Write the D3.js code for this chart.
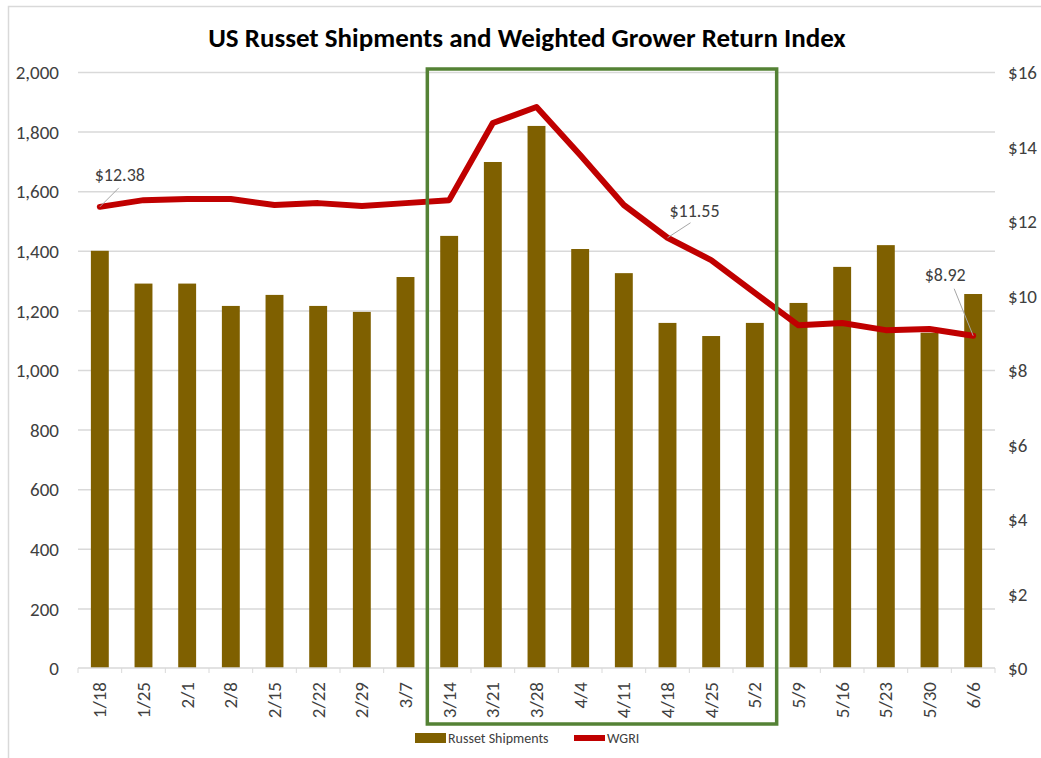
<!DOCTYPE html>
<html>
<head>
<meta charset="utf-8">
<script src="https://cdn.jsdelivr.net/npm/d3@7"></script>
<style>
	body { margin: 0; background: #fff; }
	svg text { font-family: Carlito, Calibri, 'Open Sans', sans-serif; }
</style>
</head>
<body>
<svg id="chart"></svg>
<script>
const weeks = ['1/18', '1/25', '2/1', '2/8', '2/15', '2/22', '2/29', '3/7', '3/14', '3/21', '3/28',
	'4/4', '4/11', '4/18', '4/25', '5/2', '5/9', '5/16', '5/23', '5/30', '6/6'];
const shipments = [1400, 1290, 1290, 1215, 1252, 1215, 1195, 1312, 1450, 1698, 1819,
	1406, 1325, 1158, 1114, 1158, 1225, 1346, 1419, 1125, 1255];
const wgri = [12.38, 12.56, 12.59, 12.59, 12.43, 12.48, 12.40, 12.48, 12.56, 14.63, 15.06,
	13.77, 12.43, 11.55, 10.95, 10.07, 9.20, 9.26, 9.07, 9.10, 8.92];
const leftTicks = [0, 200, 400, 600, 800, 1000, 1200, 1400, 1600, 1800, 2000];
const rightTicks = [0, 2, 4, 6, 8, 10, 12, 14, 16];
const callouts = [['1/18', '$12.38'], ['4/18', '$11.55'], ['6/6', '$8.92']];
const boxWeeks = ['3/14', '5/2'];

const W = 1041, H = 758;
const margin = {top: 72, right: 46, bottom: 90, left: 78};

const svg = d3.select('#chart').attr('width', W).attr('height', H);

// light frame round the chart
svg.append('rect')
	.attr('x', 8.5).attr('y', 6.5)
	.attr('width', W).attr('height', H)
	.attr('fill', 'none').attr('stroke', '#d9d9d9').attr('stroke-width', 1.5);

const x = d3.scaleBand()
	.domain(weeks)
	.range([margin.left, W - margin.right])
	.paddingInner(0.59)
	.paddingOuter(0.295);

const y = d3.scaleLinear().domain([0, 2000]).range([H - margin.bottom, margin.top]);
const y2 = d3.scaleLinear().domain([0, 16]).range([H - margin.bottom, margin.top]);

const x0 = margin.left, x1 = W - margin.right;

// gridlines
svg.append('g')
	.selectAll('line')
	.data(leftTicks.slice(1))
	.enter().append('line')
	.attr('x1', x0).attr('x2', x1)
	.attr('y1', d => y(d) + 0.5).attr('y2', d => y(d) + 0.5)
	.attr('stroke', '#d9d9d9').attr('stroke-width', 1.5);

// left axis
const yAxis = svg.append('g')
	.attr('transform', `translate(${x0 - 16},0)`)
	.call(d3.axisLeft(y).tickValues(leftTicks).tickSize(0).tickFormat(d3.format(',')));
yAxis.select('.domain').remove();
yAxis.selectAll('text').attr('font-size', 19).attr('fill', '#404040').attr('dy', '0.35em');

// right axis
const yAxis2 = svg.append('g')
	.attr('transform', `translate(${x1 + 10},0)`)
	.call(d3.axisRight(y2).tickValues(rightTicks).tickSize(0).tickFormat(d => '$' + d));
yAxis2.select('.domain').remove();
yAxis2.selectAll('text').attr('font-size', 19).attr('fill', '#404040').attr('dy', '0.35em');

// bars
svg.append('g')
	.selectAll('rect')
	.data(weeks.map((w, i) => [w, shipments[i]]))
	.enter().append('rect')
	.attr('x', d => x(d[0]))
	.attr('width', x.bandwidth())
	.attr('y', d => y(d[1]))
	.attr('height', d => y(0) - y(d[1]))
	.attr('fill', '#7f6000');

// bottom axis with ticks between categories
const step = x.step();
const xAxis = svg.append('g')
	.attr('transform', `translate(0,${y(0)})`);
xAxis.append('line')
	.attr('x1', x0).attr('x2', x1)
	.attr('stroke', '#d9d9d9').attr('stroke-width', 1.5);
xAxis.selectAll('.tick')
	.data(d3.range(weeks.length + 1))
	.enter().append('line')
	.attr('x1', i => x0 + i * step).attr('x2', i => x0 + i * step)
	.attr('y1', 0).attr('y2', 5)
	.attr('stroke', '#d9d9d9');
xAxis.selectAll('text')
	.data(weeks)
	.enter().append('text')
	.attr('transform', d => `translate(${x(d) + x.bandwidth() / 2},14) rotate(-90)`)
	.attr('text-anchor', 'end')
	.attr('dy', '0.35em')
	.attr('font-size', 19)
	.attr('fill', '#404040')
	.text(d => d);

// WGRI line
const line = d3.line()
	.x(d => x(d[0]) + x.bandwidth() / 2)
	.y(d => y2(d[1]));

svg.append('path')
	.datum(weeks.map((w, i) => [w, wgri[i]]))
	.attr('d', line)
	.attr('fill', 'none')
	.attr('stroke', '#c00000')
	.attr('stroke-width', 6)
	.attr('stroke-linejoin', 'round')
	.attr('stroke-linecap', 'round');

// callouts: label offset and leader end, relative to the point
const calloutPos = {
	'1/18': {label: [20, -26], leader: [19, -19]},
	'4/18': {label: [27, -21], leader: [23, -15]},
	'6/6': {label: [-28, -55], leader: [-19, -47]}
};
callouts.forEach(([w, label]) => {
	const i = weeks.indexOf(w);
	const px = x(w) + x.bandwidth() / 2, py = y2(wgri[i]);
	const pos = calloutPos[w];
	svg.append('line')
		.attr('x1', px).attr('y1', py)
		.attr('x2', px + pos.leader[0]).attr('y2', py + pos.leader[1])
		.attr('stroke', '#a6a6a6').attr('stroke-width', 1);
	svg.append('text')
		.attr('x', px + pos.label[0]).attr('y', py + pos.label[1])
		.attr('text-anchor', 'middle')
		.attr('font-size', 18)
		.attr('fill', '#404040')
		.text(label);
});

// green highlight box round 3/14 .. 5/2
const gap = (step - x.bandwidth()) / 2;
const bx0 = x(boxWeeks[0]) - gap;
const bx1 = x(boxWeeks[1]) + x.bandwidth() + gap;
svg.append('rect')
	.attr('x', bx0)
	.attr('y', y(2000) - 3)
	.attr('width', bx1 - bx0)
	.attr('height', 655)
	.attr('fill', 'none')
	.attr('stroke', '#548235')
	.attr('stroke-width', 3.5);

// title
svg.append('text')
	.attr('x', 527).attr('y', 47)
	.attr('text-anchor', 'middle')
	.attr('font-size', 27)
	.attr('font-weight', 'bold')
	.attr('fill', '#000')
	.text('US Russet Shipments and Weighted Grower Return Index');

// legend
const legend = svg.append('g').attr('transform', 'translate(415,738)');
legend.append('rect')
	.attr('x', 0).attr('y', -5).attr('width', 31).attr('height', 10)
	.attr('fill', '#7f6000');
legend.append('text')
	.attr('x', 33).attr('dy', '0.35em')
	.attr('font-size', 14).attr('fill', '#404040')
	.text('Russet Shipments');
legend.append('line')
	.attr('x1', 159).attr('x2', 190)
	.attr('stroke', '#c00000').attr('stroke-width', 6);
legend.append('text')
	.attr('x', 192).attr('dy', '0.35em')
	.attr('font-size', 14).attr('fill', '#404040')
	.text('WGRI');
</script>
</body>
</html>
